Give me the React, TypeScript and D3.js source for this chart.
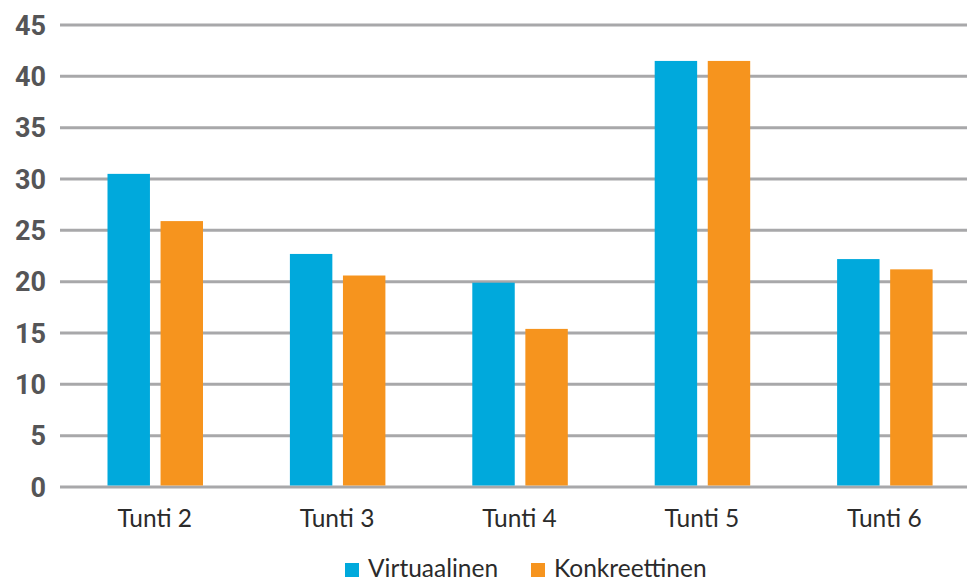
import React from "react";
import * as d3 from "d3";

const categories = ["Tunti 2", "Tunti 3", "Tunti 4", "Tunti 5", "Tunti 6"];
const seriesNames = ["Virtuaalinen", "Konkreettinen"];
const virtuaalinen = [30.5, 22.7, 19.9, 41.5, 22.2];
const konkreettinen = [25.9, 20.6, 15.4, 41.5, 21.2];
const yTicks = [0, 5, 10, 15, 20, 25, 30, 35, 40, 45];
const colors = ["#00a9dc", "#f6941e"];

const W = 967;
const H = 581;

export default function App() {
  const x0 = d3.scaleBand<string>().domain(categories).range([64, 976]).paddingInner(0).paddingOuter(0);
  const x1 = d3.scaleBand<string>().domain(seriesNames).range([43.5, 139]).paddingInner(0.2);
  const y = d3.scaleLinear().domain([0, 45]).range([487, 25]);
  const series = [virtuaalinen, konkreettinen];

  return (
    <svg width={W} height={H} style={{ position: "absolute", left: 0, top: 0, background: "#fff" }}>
      {yTicks.map((t) => (
        <g key={t}>
          <line x1={60} x2={W} y1={y(t)} y2={y(t)} stroke="#a8a8aa" strokeWidth={3} />
          <text x={46} y={y(t)} dy="0.36em" textAnchor="end" fontFamily="Roboto, sans-serif" fontWeight={700}
            fontSize={27} fill="#555557">{t}</text>
        </g>
      ))}
      {categories.map((c, i) => (
        <g key={c} transform={`translate(${x0(c)},0)`}>
          {series.map((s, j) => (
            <rect key={j} x={x1(seriesNames[j])} width={x1.bandwidth()} y={y(s[i])} height={y(0) - y(s[i]) - 1.5}
              fill={colors[j]} />
          ))}
          <text x={x0.bandwidth() / 2 - 0.5} y={527} textAnchor="middle" fontFamily="Lato, sans-serif"
            fontSize={24.5} fill="#2b2b2b">{c}</text>
        </g>
      ))}
      {seriesNames.map((n, j) => {
        const lx = [345, 531][j];
        return (
          <g key={n}>
            <rect x={lx} y={563} width={14} height={14} fill={colors[j]} />
            <text x={lx + 23} y={577} fontFamily="Lato, sans-serif" fontSize={24.5} fill="#2b2b2b">{n}</text>
          </g>
        );
      })}
    </svg>
  );
}
